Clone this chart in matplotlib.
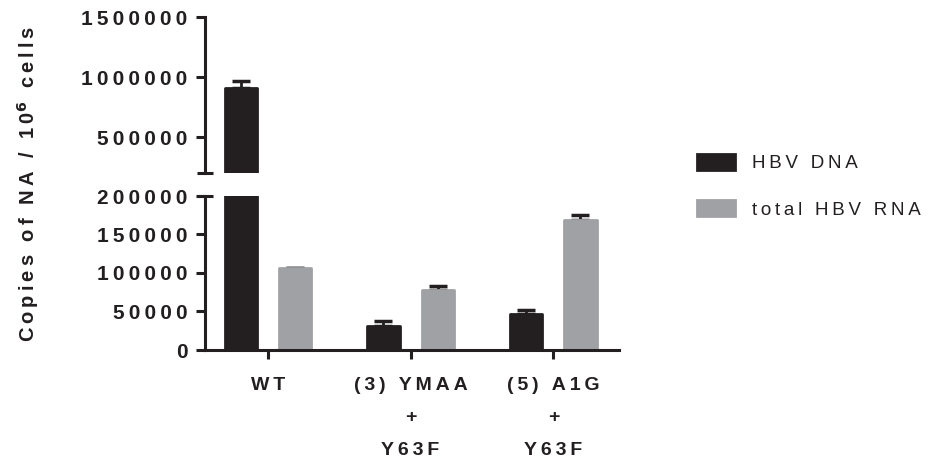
import matplotlib
matplotlib.use("Agg")
import matplotlib.pyplot as plt
from matplotlib.patches import Patch
import numpy as np

# ---- data ----
categories = ["WT", "(3) YMAA\n+\nY63F", "(5) A1G\n+\nY63F"]
dna = [907000, 31500, 46700]
dna_err = [63000, 6000, 5000]
rna = [106000, 77800, 169400]
rna_err = [1000, 5000, 5500]
top_ticks = [500000, 1000000, 1500000]
bot_ticks = [0, 50000, 100000, 150000, 200000]
series_names = ["HBV DNA", "total HBV RNA"]

TS = "\u2009"
def spaced(s):
    return "\n".join(TS.join(line) for line in s.split("\n"))

plt.rcParams['font.family'] = ['Liberation Sans', 'DejaVu Sans']
C_DNA = "#231f20"
C_RNA = "#a0a1a4"
AX_C = "#231f20"

W, H = 930, 461
fig = plt.figure(figsize=(W / 100, H / 100), dpi=100)

left, right = 205 / W, 619 / W
ax_top = fig.add_axes([left, 1 - 173.3 / H, right - left, (173.3 - 17.3) / H])
ax_bot = fig.add_axes([left, 1 - 350 / H, right - left, (350 - 196) / H])

x = np.arange(len(categories))
bw = 0.225
off = 0.19
xlim = (-0.44, 2.46)

for ax in (ax_top, ax_bot):
    ax.bar(x - off, dna, bw, color=C_DNA, edgecolor=C_DNA, linewidth=2, joinstyle='round', zorder=2)
    ax.bar(x + off, rna, bw, color=C_RNA, edgecolor=C_RNA, linewidth=2, joinstyle='round', zorder=2)
    ax.errorbar(x - off, dna, yerr=[np.zeros(len(dna)), dna_err], fmt='none',
                ecolor=C_DNA, elinewidth=2, capsize=6.5, capthick=2.5, zorder=1)
    ax.errorbar(x + off, rna, yerr=[np.zeros(len(rna)), rna_err], fmt='none',
                ecolor=C_DNA, elinewidth=2, capsize=6.5, capthick=2.5, zorder=1)
    ax.set_xlim(*xlim)
    for s in ("top", "right"):
        ax.spines[s].set_visible(False)
    ax.spines["left"].set_linewidth(2.2)
    ax.spines["left"].set_color(AX_C)
    ax.tick_params(axis='y', direction='out', length=6.5, width=2.2, color=AX_C, pad=6,
                   labelsize=15, labelcolor=AX_C)

ax_top.set_ylim(200000, 1500000)
ax_top.spines["bottom"].set_visible(False)
ax_top.set_xticks([])
ax_top.set_yticks(top_ticks)
ax_top.set_yticklabels([spaced(str(v)) for v in top_ticks], fontweight='bold')

ax_bot.set_ylim(0, 200000)
ax_bot.spines["bottom"].set_linewidth(2.2)
ax_bot.spines["bottom"].set_color(AX_C)
ax_bot.set_yticks(bot_ticks)
ax_bot.set_yticklabels([spaced(str(v)) for v in bot_ticks], fontweight='bold')
ax_bot.set_xticks(x)
ax_bot.set_xticklabels([spaced(c) for c in categories], fontweight='bold', linespacing=2.18)
ax_bot.tick_params(axis='x', direction='out', length=6.5, width=2.2, color=AX_C, pad=13,
                   labelsize=14, labelcolor=AX_C)

# break caps
d = 8 / (right - left) / W
ax_top.plot([-d, d], [0, 0], transform=ax_top.transAxes, color=AX_C, lw=2.2, clip_on=False,
            solid_capstyle='butt')
ax_bot.plot([-d, d], [1, 1], transform=ax_bot.transAxes, color=AX_C, lw=2.2, clip_on=False,
            solid_capstyle='butt')

fig.text(28 / W, 1 - 184 / H,
         spaced("Copies of NA / 10") + r"$^{\mathbf{6}}$" + TS + spaced(" cells"),
         rotation=90, ha='center', va='center', fontsize=14.5, fontweight='bold', color=AX_C)

handles = [Patch(facecolor=C_DNA, edgecolor=C_DNA, linewidth=2, joinstyle='round'),
           Patch(facecolor=C_RNA, edgecolor=C_RNA, linewidth=2, joinstyle='round')]
leg = fig.legend(handles, [spaced(s) for s in series_names], loc='upper left',
                 bbox_to_anchor=(697 / W, 1 - 154 / H), frameon=False, fontsize=13.5,
                 handlelength=2.0, handleheight=0.9, handletextpad=0.95, labelspacing=1.5,
                 borderpad=0, borderaxespad=0)
for t in leg.get_texts():
    t.set_color(AX_C)

fig.savefig("out.png", dpi=100)
